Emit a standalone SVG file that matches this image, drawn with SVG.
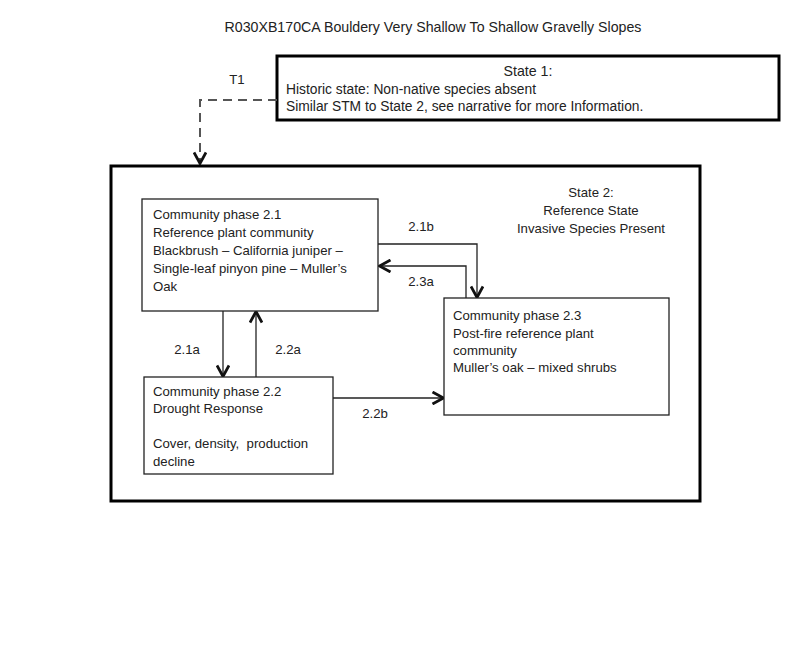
<svg xmlns="http://www.w3.org/2000/svg" width="800" height="666" viewBox="0 0 800 666">
<style>
text{font-family:"Liberation Sans",Arial,sans-serif;font-size:13.2px;fill:#222;white-space:pre}
.big{font-size:14.2px}
.s1{font-size:13.8px}
.box{fill:#fff;stroke:#222;stroke-width:1.3}
.state{fill:none;stroke:#000;stroke-width:3}
.con{fill:none;stroke:#222;stroke-width:1.3}
.dash{fill:none;stroke:#555;stroke-width:2;stroke-dasharray:9,6}
</style>
<defs>
<marker id="ah" viewBox="0 0 14 14" refX="13" refY="7" markerWidth="14" markerHeight="14" markerUnits="userSpaceOnUse" orient="auto">
<polyline points="1.5,1 12.5,7 1.5,13" fill="none" stroke="#111" stroke-width="2.8"/>
</marker>
</defs>
<rect width="800" height="666" fill="#fff"/>
<text class="big" x="433" y="32" text-anchor="middle">R030XB170CA Bouldery Very Shallow To Shallow Gravelly Slopes</text>
<g id="state1">
<rect class="state" x="277" y="56" width="502" height="64"/>
<text class="big" x="528" y="76" text-anchor="middle">State 1:</text>
<text class="s1" x="286" y="94">Historic state: Non-native species absent</text>
<text class="s1" x="286" y="111">Similar STM to State 2, see narrative for more Information.</text>
</g>
<g id="state2">
<rect class="state" x="111" y="166" width="589" height="335"/>
<text x="591" y="197" text-anchor="middle">State 2:</text>
<text x="591" y="215" text-anchor="middle">Reference State</text>
<text x="591" y="233" text-anchor="middle">Invasive Species Present</text>
</g>
<g id="connectors">
<polyline class="dash" points="277,100 200,100 200,164" marker-end="url(#ah)"/>
<text x="237" y="84" text-anchor="middle">T1</text>
<line class="con" x1="223" y1="311" x2="223" y2="377" marker-end="url(#ah)"/>
<text x="187" y="354" text-anchor="middle">2.1a</text>
<line class="con" x1="256" y1="377" x2="256" y2="311" marker-end="url(#ah)"/>
<text x="288" y="354" text-anchor="middle">2.2a</text>
<line class="con" x1="333" y1="398" x2="444" y2="398" marker-end="url(#ah)"/>
<text x="375" y="418" text-anchor="middle">2.2b</text>
<polyline class="con" points="378,244 477,244 477,298" marker-end="url(#ah)"/>
<text x="421" y="231" text-anchor="middle">2.1b</text>
<polyline class="con" points="466,298 466,266 379,266" marker-end="url(#ah)"/>
<text x="421" y="286" text-anchor="middle">2.3a</text>
</g>
<g id="p21">
<rect class="box" x="142" y="199" width="236" height="112"/>
<text x="153" y="219">Community phase 2.1</text>
<text x="153" y="237">Reference plant community</text>
<text x="153" y="255">Blackbrush – California juniper –</text>
<text x="153" y="273">Single-leaf pinyon pine – Muller’s</text>
<text x="153" y="291">Oak</text>
</g>
<g id="p22">
<rect class="box" x="144" y="377" width="189" height="97"/>
<text x="153" y="396">Community phase 2.2</text>
<text x="153" y="413">Drought Response</text>
<text x="153" y="448">Cover, density,  production</text>
<text x="153" y="466">decline</text>
</g>
<g id="p23">
<rect class="box" x="444" y="298" width="225" height="117"/>
<text x="453" y="320">Community phase 2.3</text>
<text x="453" y="338">Post-fire reference plant</text>
<text x="453" y="355">community</text>
<text x="453" y="372">Muller’s oak – mixed shrubs</text>
</g>
</svg>
